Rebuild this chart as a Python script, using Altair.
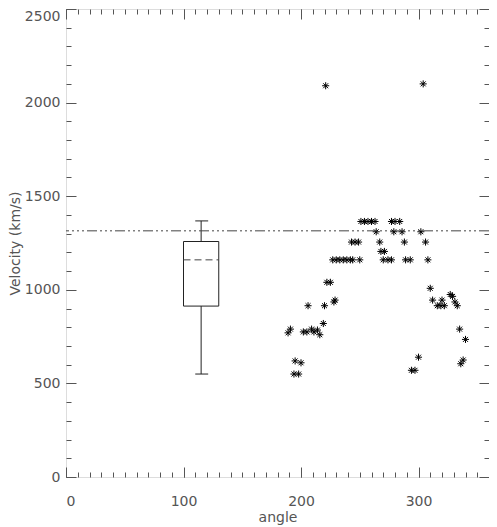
import altair as alt
import pandas as pd

# scatter data: angle (deg), velocity (km/s)
angle = [221, 304,
         251, 254, 257, 260, 263, 277, 280, 284,
         264, 279, 286, 302,
         243, 246, 249, 267, 288, 306,
         268, 271,
         227, 230, 233, 236, 239, 242, 244, 250, 270, 274, 277, 289, 293, 308,
         222, 225, 229,
         206, 220, 228,
         189, 191, 202, 205, 209, 211, 214, 216, 219,
         195, 200, 194, 198,
         310, 312, 316, 319, 322, 320, 327, 329, 331, 333, 335, 340,
         300, 294, 297, 338, 336]
velocity = [2090, 2100,
            1365, 1365, 1365, 1365, 1365, 1365, 1365, 1365,
            1310, 1310, 1310, 1310,
            1255, 1255, 1255, 1255, 1255, 1255,
            1205, 1205,
            1160, 1160, 1160, 1160, 1160, 1160, 1160, 1160, 1160, 1160, 1160, 1160, 1160, 1160,
            1040, 1040, 945,
            915, 915, 935,
            770, 790, 775, 775, 790, 775, 785, 760, 820,
            620, 610, 550, 550,
            1008, 945, 915, 915, 915, 945, 975, 965, 935, 915, 790, 735,
            640, 570, 570, 625, 605]

# box-plot summary
box_x = [100]
box_x2 = [130]
box_center = [115]
cap_lo = [110]
cap_hi = [121]
q1 = [913]
median = [1160]
q3 = [1258]
wlo = [550]
whi = [1368]
ref_level = [1315]

major_x = [0, 100, 200, 300]
minor_x = list(range(0, 361, 10))
major_y = [0, 500, 1000, 1500, 2000, 2500]
minor_y = list(range(0, 2501, 100))

pts = pd.DataFrame({"angle": angle, "velocity": velocity})
box = pd.DataFrame({"x": box_x, "x2": box_x2, "xc": box_center, "c1": cap_lo, "c2": cap_hi,
                    "q1": q1, "med": median, "q3": q3, "lo": wlo, "hi": whi})
ref = pd.DataFrame({"v": ref_level})

XS = alt.Scale(domain=[0, 360], nice=False, zero=False)
YS = alt.Scale(domain=[0, 2500], nice=False, zero=False)
GRAY = "#555555"
FONT = "DejaVu Sans"

def ax(orient, values, size, labels=False, title=None, lp=0, tp=0, **extra):
    kw = dict(orient=orient, values=values, tickSize=size, offset=-size, domain=False,
              grid=False, ticks=True, tickColor=GRAY, labels=labels)
    if labels:
        kw.update(labelFont=FONT, labelFontSize=14, labelColor=GRAY, labelPadding=lp,
                  format="d")
    if title:
        kw.update(title=title, titleFont=FONT, titleFontSize=14, titleColor=GRAY,
                  titleFontWeight="normal", titlePadding=tp)
    else:
        kw.update(title=None)
    kw.update(extra)
    return alt.Axis(**kw)

star = "M-1,0L1,0M0,-1L0,1M-0.7,-0.7L0.7,0.7M-0.7,0.7L0.7,-0.7"

points = alt.Chart(pts).mark_point(shape=star, size=50, filled=False, color="black",
                                   strokeWidth=1, opacity=1).encode(
    x=alt.X("angle:Q", scale=XS, axis=ax("bottom", major_x, 10, True, "angle", 17, 2)),
    y=alt.Y("velocity:Q", scale=YS,
            axis=ax("left", major_y, 10, True, "Velocity (km/s)", 6, 2,
                    labelBaseline={"condition": {"test": "datum.value >= 2500", "value": "top"},
                                   "value": "middle"})),
)

rect = alt.Chart(box).mark_rect(fill=None, stroke="#222222", strokeWidth=1).encode(
    x=alt.X("x:Q", scale=XS, axis=ax("bottom", minor_x, 5)),
    x2="x2:Q",
    y=alt.Y("q1:Q", scale=YS, axis=ax("left", minor_y, 5)),
    y2="q3:Q",
)

whisk_lo = alt.Chart(box).mark_rule(color="#222222").encode(
    x=alt.X("xc:Q", scale=XS, axis=ax("top", major_x, 10)),
    y=alt.Y("lo:Q", scale=YS, axis=ax("right", major_y, 10)),
    y2="q1:Q",
)
whisk_hi = alt.Chart(box).mark_rule(color="#222222").encode(
    x=alt.X("xc:Q", scale=XS, axis=ax("top", minor_x, 5)),
    y=alt.Y("q3:Q", scale=YS, axis=ax("right", minor_y, 5)),
    y2="hi:Q",
)
cap_low = alt.Chart(box).mark_rule(color="#222222").encode(
    x=alt.X("c1:Q", scale=XS, axis=None), x2="c2:Q",
    y=alt.Y("lo:Q", scale=YS, axis=None),
)
cap_high = alt.Chart(box).mark_rule(color="#222222").encode(
    x=alt.X("c1:Q", scale=XS, axis=None), x2="c2:Q",
    y=alt.Y("hi:Q", scale=YS, axis=None),
)
med = alt.Chart(box).mark_rule(color="#444444", strokeDash=[7, 4]).encode(
    x=alt.X("x:Q", scale=XS, axis=None), x2="x2:Q",
    y=alt.Y("med:Q", scale=YS, axis=None),
)
hline = alt.Chart(ref).mark_rule(color="#444444", strokeDash=[10, 3, 2, 3, 2, 3, 2, 3]).encode(
    y=alt.Y("v:Q", scale=YS, axis=None),
)

chart = alt.layer(points, rect, whisk_lo, whisk_hi, cap_low, cap_high, med, hline).resolve_scale(
    x="independent", y="independent"
).properties(
    width=423, height=468,
    autosize=alt.AutoSizeParams(type="none"),
    padding={"left": 58, "top": 1, "right": 0, "bottom": 50},
).configure_view(stroke=GRAY, strokeWidth=1).configure(background="white")

chart.save("out.html", embed_options={"renderer": "svg", "actions": False})
